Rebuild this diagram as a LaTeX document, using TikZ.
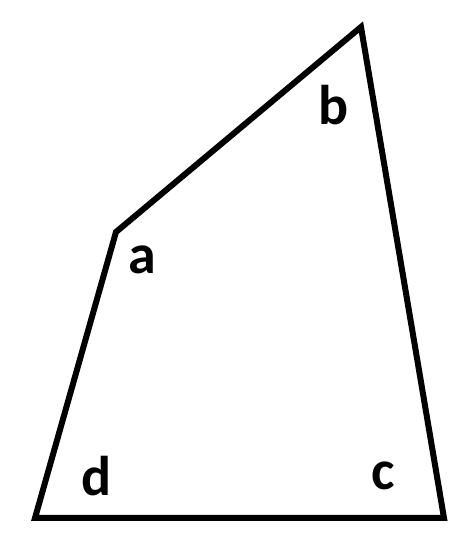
\documentclass[tikz,border=0pt]{standalone}
\usepackage{fontspec}
\setmainfont{Carlito}
\begin{document}
\begin{tikzpicture}[x=1pt,y=1pt,
  edge/.style={line width=6pt,line join=miter},
  lbl/.style={font=\fontsize{56}{60}\selectfont\bfseries,anchor=base,inner sep=0pt}]
\useasboundingbox (0,0) rectangle (475,550);
\coordinate (A) at (116,318);
\coordinate (B) at (361,523);
\coordinate (C) at (444,32);
\coordinate (D) at (35,32);
\draw[edge] (A) -- (B) -- (C) -- (D) -- cycle;
\node[lbl] (la) at (142,276) {a};
\node[lbl] (lb) at (334,425) {b};
\node[lbl] (lc) at (383,60) {c};
\node[lbl] (ld) at (97,55) {d};
\end{tikzpicture}
\end{document}
